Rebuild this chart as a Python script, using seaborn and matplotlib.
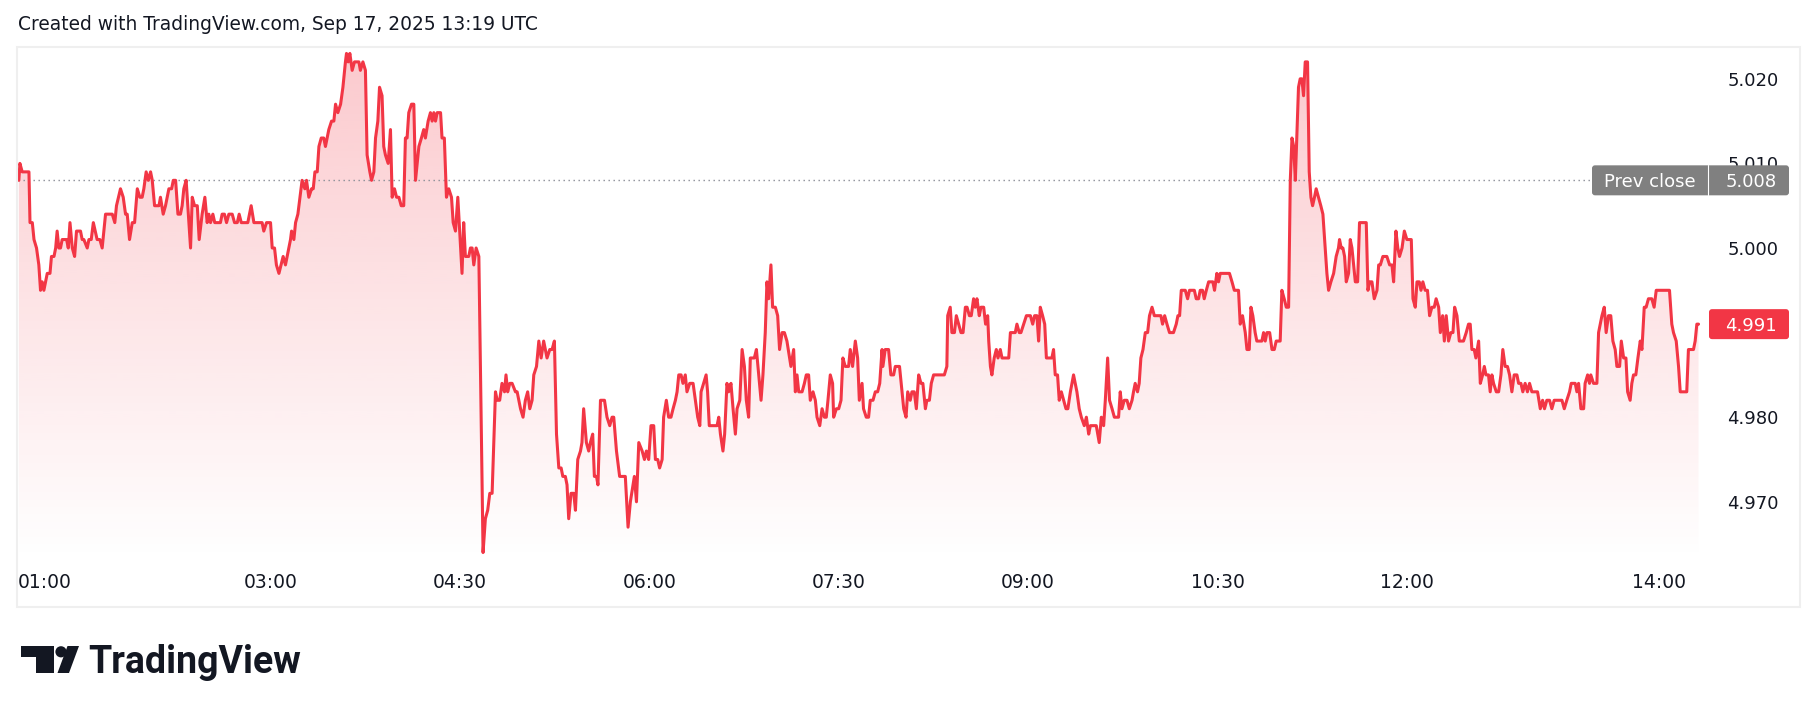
import numpy as np
import pandas as pd
import matplotlib
matplotlib.use("Agg")
import matplotlib.pyplot as plt
import matplotlib.colors as mcolors
from matplotlib.patches import Rectangle, FancyBboxPatch, Polygon, Circle
from matplotlib.transforms import IdentityTransform
import seaborn as sns

# minutes after midnight (chart time) and price in four stretches
t_night = [60.4, 60.9, 62.0, 65.2, 65.7, 66.8, 67.6, 68.8, 69.9, 70.7,
           71.5, 72.3, 73.1, 73.9, 75.2, 75.9, 77.1, 77.9, 78.6, 79.4,
           80.2, 81.0, 82.1, 83.1, 83.9, 84.7, 85.8, 86.9, 87.8, 89.7,
           90.5, 91.3, 92.9, 93.7, 94.8, 95.8, 97.6, 98.9, 100.0, 101.6,
           104.8, 106.0, 106.8, 108.7, 110.0, 111.1, 111.9, 113.0, 114.3, 115.4,
           116.7, 117.9, 119.0, 119.8, 120.9, 121.9, 123.0, 123.8, 124.9, 127.0,
           127.7, 129.0, 130.1, 131.7, 133.0, 133.8, 134.9, 136.0, 137.2, 138.0,
           138.8, 139.9, 142.0, 142.8, 143.9, 145.2, 146.1, 147.5, 148.8, 149.9,
           150.7, 151.5, 152.6, 153.5, 156.2, 157.0, 158.1, 159.1, 160.2, 161.8,
           162.9, 164.2, 165.1, 166.1, 169.2, 170.8, 172.1, 176.0, 176.8, 178.1,
           180.0, 180.8, 181.9, 182.8, 184.0, 186.0, 187.1, 188.7, 189.5, 190.0,
           191.1, 191.9, 193.0, 195.0, 196.3, 197.1, 198.2, 199.5, 200.3, 201.1,
           202.2, 203.0, 204.1, 205.3, 206.1, 207.7, 209.0, 210.1, 210.9, 212.0,
           213.3, 214.4, 214.8, 215.6, 216.1, 216.9, 217.7, 218.8, 219.9, 222.0,
           222.7, 223.9, 225.1, 225.9, 227.2, 228.0, 229.1, 229.9, 231.0, 231.8,
           233.0, 233.8, 234.6, 235.9, 237.0, 237.8, 238.9, 239.9, 241.0, 242.1,
           243.3, 244.1, 244.9, 245.7, 247.0, 248.1, 248.9, 250.5, 251.7, 252.8,
           253.6, 254.9, 256.0, 256.8, 257.6, 258.4, 259.2, 260.8, 261.5, 262.6,
           263.6, 264.7, 266.0, 266.8, 267.9, 269.0, 270.3, 271.0, 271.8, 272.6,
           274.2, 275.0, 275.8, 276.6, 277.7, 279.0, 281.0]
p_night = [5.008, 5.010, 5.009, 5.009, 5.003, 5.003, 5.001, 5.000, 4.998, 4.995,
           4.996, 4.995, 4.996, 4.997, 4.997, 4.999, 4.999, 5.000, 5.002, 5.000,
           5.000, 5.001, 5.001, 5.001, 5.000, 5.003, 5.000, 4.999, 5.002, 5.002,
           5.001, 5.001, 5.000, 5.001, 5.001, 5.003, 5.001, 5.001, 5.000, 5.004,
           5.004, 5.003, 5.005, 5.007, 5.006, 5.004, 5.004, 5.001, 5.003, 5.003,
           5.007, 5.006, 5.006, 5.007, 5.009, 5.008, 5.009, 5.008, 5.005, 5.005,
           5.006, 5.004, 5.005, 5.007, 5.007, 5.008, 5.008, 5.004, 5.004, 5.005,
           5.007, 5.008, 5.000, 5.006, 5.005, 5.005, 5.001, 5.004, 5.006, 5.003,
           5.004, 5.003, 5.004, 5.003, 5.003, 5.004, 5.004, 5.003, 5.004, 5.004,
           5.003, 5.003, 5.004, 5.003, 5.003, 5.005, 5.003, 5.003, 5.002, 5.003,
           5.003, 5.000, 5.000, 4.998, 4.997, 4.999, 4.998, 5.000, 5.001, 5.002,
           5.001, 5.003, 5.004, 5.008, 5.007, 5.008, 5.006, 5.007, 5.007, 5.009,
           5.009, 5.012, 5.013, 5.013, 5.012, 5.014, 5.015, 5.015, 5.017, 5.016,
           5.017, 5.019, 5.020, 5.022, 5.023, 5.022, 5.023, 5.021, 5.022, 5.022,
           5.021, 5.022, 5.021, 5.011, 5.009, 5.008, 5.009, 5.013, 5.015, 5.019,
           5.018, 5.012, 5.011, 5.010, 5.014, 5.006, 5.007, 5.006, 5.006, 5.005,
           5.005, 5.013, 5.013, 5.016, 5.017, 5.017, 5.008, 5.012, 5.013, 5.014,
           5.013, 5.015, 5.016, 5.015, 5.016, 5.015, 5.016, 5.016, 5.013, 5.013,
           5.006, 5.007, 5.006, 5.003, 5.002, 5.006, 5.000, 4.997, 5.003, 4.999,
           4.999, 5.000, 5.000, 4.998, 5.000, 4.999, 4.964]

t_morning = [282.1, 283.2, 284.2, 285.3, 286.9, 287.7, 288.9, 290.0, 291.2, 291.9,
             292.7, 293.7, 294.8, 296.4, 297.2, 298.8, 300.0, 301.1, 302.2, 303.2,
             304.3, 305.1, 306.4, 307.5, 308.6, 309.8, 311.4, 312.7, 313.8, 314.9,
             315.9, 317.0, 318.1, 318.9, 320.1, 320.9, 321.7, 322.8, 324.1, 324.9,
             326.0, 327.3, 328.0, 328.8, 330.1, 331.2, 332.0, 333.1, 333.9, 334.9,
             335.6, 336.8, 338.7, 339.9, 341.2, 342.3, 343.1, 344.4, 345.9, 348.6,
             349.9, 351.0, 352.3, 352.9, 353.9, 355.0, 356.6, 357.7, 358.6, 359.7,
             360.8, 362.1, 362.9, 364.0, 364.9, 366.1, 366.8, 368.1, 369.2, 370.3,
             371.3, 372.4, 373.2, 374.0, 375.1, 376.0, 377.1, 377.9, 379.2, 380.8,
             381.9, 383.0, 384.0, 384.6, 385.8, 387.0, 387.7, 388.5, 392.2, 393.0,
             393.8, 395.0, 395.8, 396.9, 397.7, 398.8, 399.8, 400.9, 401.7, 403.0,
             404.1, 405.2, 406.1, 407.2, 408.0, 409.9, 410.9, 412.0, 413.1, 414.0,
             415.1, 415.9, 416.7, 417.8, 418.6, 419.9, 421.0, 421.9, 423.1, 424.2,
             425.4, 426.7, 427.3, 428.6, 429.4, 430.2, 431.0, 432.6, 433.7, 434.6,
             435.7, 436.5, 437.8, 438.9, 439.7, 441.0, 442.1, 443.2, 444.1, 444.9,
             446.0, 447.1, 447.6, 448.9, 450.0, 451.1, 452.0, 453.1, 454.7, 455.5,
             456.6, 457.9, 459.0, 459.8, 461.1, 461.8, 463.1, 464.2, 465.0, 466.3,
             467.4, 468.5, 469.5, 470.6, 471.0, 472.1, 473.7, 474.8, 476.1, 476.9,
             478.9, 480.1, 480.9, 482.0, 482.8, 484.0, 484.8, 485.9, 486.9, 488.0,
             489.1, 490.0, 491.2, 491.9, 493.1, 494.0, 495.1, 500.2, 501.4, 501.8,
             503.0]
p_morning = [4.968, 4.969, 4.971, 4.971, 4.983, 4.982, 4.982, 4.984, 4.983, 4.985,
             4.983, 4.984, 4.984, 4.983, 4.983, 4.981, 4.980, 4.982, 4.983, 4.981,
             4.982, 4.985, 4.986, 4.989, 4.987, 4.989, 4.987, 4.988, 4.988, 4.989,
             4.978, 4.974, 4.974, 4.973, 4.973, 4.972, 4.968, 4.971, 4.971, 4.969,
             4.975, 4.976, 4.977, 4.981, 4.977, 4.976, 4.977, 4.978, 4.973, 4.973,
             4.972, 4.982, 4.982, 4.980, 4.979, 4.980, 4.980, 4.976, 4.973, 4.973,
             4.967, 4.970, 4.972, 4.973, 4.970, 4.977, 4.976, 4.975, 4.976, 4.975,
             4.979, 4.979, 4.975, 4.975, 4.974, 4.975, 4.980, 4.982, 4.980, 4.980,
             4.981, 4.982, 4.983, 4.985, 4.985, 4.984, 4.985, 4.983, 4.984, 4.984,
             4.982, 4.980, 4.979, 4.983, 4.984, 4.985, 4.983, 4.979, 4.979, 4.980,
             4.978, 4.976, 4.978, 4.984, 4.983, 4.984, 4.981, 4.978, 4.981, 4.982,
             4.988, 4.986, 4.982, 4.980, 4.987, 4.987, 4.988, 4.985, 4.982, 4.985,
             4.990, 4.996, 4.994, 4.998, 4.993, 4.993, 4.992, 4.988, 4.990, 4.990,
             4.989, 4.987, 4.986, 4.988, 4.983, 4.985, 4.983, 4.983, 4.984, 4.985,
             4.985, 4.982, 4.983, 4.982, 4.980, 4.979, 4.981, 4.980, 4.980, 4.982,
             4.985, 4.984, 4.980, 4.981, 4.981, 4.982, 4.987, 4.986, 4.986, 4.988,
             4.986, 4.989, 4.987, 4.982, 4.984, 4.981, 4.980, 4.980, 4.982, 4.982,
             4.983, 4.983, 4.984, 4.988, 4.986, 4.988, 4.988, 4.985, 4.985, 4.986,
             4.986, 4.983, 4.981, 4.980, 4.983, 4.982, 4.983, 4.983, 4.981, 4.985,
             4.984, 4.984, 4.981, 4.982, 4.982, 4.984, 4.985, 4.985, 4.986, 4.992,
             4.993]

t_midday = [503.8, 505.0, 505.9, 507.0, 508.1, 509.1, 510.2, 511.0, 512.1, 513.0,
            514.1, 514.9, 515.7, 516.8, 517.6, 518.9, 519.8, 520.8, 521.3, 522.1,
            522.8, 523.9, 524.9, 525.7, 526.8, 527.6, 530.8, 531.6, 533.9, 534.7,
            535.8, 536.6, 537.9, 539.2, 541.1, 542.2, 543.1, 544.2, 545.0, 545.8,
            546.9, 547.9, 548.7, 551.3, 552.1, 552.9, 554.0, 554.8, 555.8, 556.9,
            558.0, 558.9, 560.1, 561.6, 563.2, 564.3, 565.3, 566.7, 567.7, 568.8,
            569.6, 571.1, 572.4, 573.8, 574.8, 575.9, 576.7, 577.8, 578.7, 579.9,
            581.0, 583.0, 583.8, 584.6, 585.7, 587.0, 588.1, 589.4, 590.1, 590.9,
            592.0, 592.8, 593.6, 594.6, 595.7, 596.8, 597.7, 598.9, 600.0, 603.1,
            603.9, 604.9, 606.0, 607.2, 609.1, 610.4, 611.2, 612.0, 612.8, 614.7,
            615.8, 616.7, 619.0, 619.9, 621.0, 621.8, 622.9, 623.7, 624.7, 625.8,
            627.8, 628.6, 629.7, 630.5, 631.3, 635.7, 636.9, 638.0, 640.0, 640.8,
            641.9, 643.2, 644.0, 645.1, 645.9, 646.8, 647.9, 648.7, 651.1, 651.9,
            652.7, 653.5, 654.8, 655.9, 657.0, 657.9, 659.8, 660.6, 661.7, 662.7,
            663.8, 664.6, 665.4, 666.2, 667.0, 667.7, 668.5, 669.3, 670.1, 670.9,
            671.7, 672.8, 673.6, 674.4, 675.2, 676.1, 676.9, 678.0, 679.1, 680.1,
            681.2, 682.0, 682.8, 683.9, 685.2, 686.4, 687.5, 688.0, 688.8, 689.6,
            690.4, 691.2, 692.3, 693.1]
p_midday = [4.990, 4.990, 4.992, 4.991, 4.990, 4.990, 4.993, 4.993, 4.992, 4.992,
            4.994, 4.993, 4.994, 4.992, 4.993, 4.993, 4.991, 4.992, 4.989, 4.986,
            4.985, 4.987, 4.988, 4.987, 4.988, 4.987, 4.987, 4.990, 4.990, 4.991,
            4.990, 4.990, 4.991, 4.992, 4.992, 4.991, 4.992, 4.992, 4.989, 4.993,
            4.992, 4.991, 4.987, 4.987, 4.988, 4.985, 4.985, 4.982, 4.983, 4.982,
            4.981, 4.981, 4.983, 4.985, 4.983, 4.981, 4.980, 4.979, 4.980, 4.978,
            4.979, 4.979, 4.979, 4.977, 4.980, 4.979, 4.982, 4.987, 4.982, 4.981,
            4.980, 4.980, 4.983, 4.981, 4.982, 4.982, 4.981, 4.982, 4.983, 4.984,
            4.983, 4.984, 4.987, 4.988, 4.990, 4.990, 4.992, 4.993, 4.992, 4.992,
            4.991, 4.992, 4.991, 4.990, 4.990, 4.991, 4.992, 4.992, 4.995, 4.995,
            4.994, 4.995, 4.995, 4.994, 4.994, 4.995, 4.995, 4.994, 4.995, 4.996,
            4.996, 4.995, 4.997, 4.996, 4.997, 4.997, 4.996, 4.995, 4.995, 4.991,
            4.992, 4.990, 4.988, 4.988, 4.993, 4.992, 4.990, 4.989, 4.989, 4.990,
            4.989, 4.990, 4.990, 4.988, 4.988, 4.989, 4.989, 4.995, 4.994, 4.993,
            4.993, 5.008, 5.013, 5.012, 5.008, 5.013, 5.019, 5.020, 5.020, 5.018,
            5.022, 5.022, 5.009, 5.006, 5.005, 5.006, 5.007, 5.006, 5.005, 5.004,
            5.000, 4.997, 4.995, 4.996, 4.997, 4.999, 5.000, 5.001, 5.000, 5.000,
            4.999, 4.996, 4.997, 5.001]

t_afternoon = [693.9, 694.7, 695.5, 696.6, 697.5, 700.7, 701.5, 702.3, 703.4, 704.5,
               705.8, 706.6, 707.4, 708.6, 710.5, 711.8, 712.9, 713.7, 714.8, 715.7,
               716.5, 717.7, 718.8, 720.0, 722.1, 722.9, 724.0, 724.8, 725.9, 726.7,
               727.6, 728.7, 729.8, 730.8, 731.9, 733.0, 733.9, 735.1, 735.9, 737.0,
               737.8, 738.7, 739.8, 740.9, 741.9, 742.7, 743.8, 744.9, 746.9, 748.2,
               749.3, 750.1, 750.9, 752.0, 752.8, 754.1, 754.9, 756.0, 756.8, 757.6,
               758.8, 759.6, 760.4, 761.2, 762.5, 763.6, 764.7, 765.6, 766.7, 767.8,
               768.8, 769.9, 771.0, 772.3, 773.1, 774.2, 775.1, 776.2, 777.3, 778.3,
               779.4, 782.1, 783.4, 784.5, 785.4, 786.5, 787.8, 788.9, 790.0, 793.7,
               794.8, 796.0, 797.3, 798.1, 800.0, 800.8, 801.6, 802.7, 804.0, 804.7,
               805.9, 806.8, 807.4, 808.7, 810.3, 811.1, 812.7, 813.8, 814.7, 815.8,
               816.9, 817.9, 819.0, 819.8, 821.1, 821.9, 823.0, 824.1, 824.9, 826.1,
               826.9, 827.7, 828.8, 829.8, 830.9, 831.7, 832.8, 833.7, 834.8, 836.4,
               837.5, 838.5, 844.8, 845.9, 846.7, 848.0, 849.1, 849.9, 853.0, 853.8,
               856.2, 857.0, 857.8, 858.6]
p_afternoon = [5.000, 4.998, 4.996, 4.996, 5.003, 5.003, 4.995, 4.996, 4.996, 4.994,
               4.995, 4.998, 4.998, 4.999, 4.999, 4.998, 4.998, 4.996, 5.002, 5.000,
               4.999, 5.000, 5.002, 5.001, 5.001, 4.994, 4.993, 4.996, 4.996, 4.995,
               4.996, 4.995, 4.995, 4.992, 4.993, 4.993, 4.994, 4.993, 4.990, 4.992,
               4.989, 4.992, 4.989, 4.990, 4.990, 4.993, 4.992, 4.989, 4.989, 4.990,
               4.991, 4.991, 4.988, 4.988, 4.987, 4.989, 4.984, 4.985, 4.986, 4.985,
               4.985, 4.983, 4.985, 4.984, 4.983, 4.983, 4.985, 4.988, 4.986, 4.986,
               4.985, 4.983, 4.985, 4.985, 4.984, 4.984, 4.983, 4.984, 4.983, 4.984,
               4.983, 4.983, 4.981, 4.982, 4.981, 4.982, 4.982, 4.981, 4.982, 4.982,
               4.981, 4.982, 4.983, 4.984, 4.984, 4.983, 4.984, 4.981, 4.981, 4.984,
               4.985, 4.984, 4.985, 4.984, 4.984, 4.990, 4.992, 4.993, 4.990, 4.992,
               4.992, 4.989, 4.988, 4.986, 4.986, 4.989, 4.987, 4.987, 4.983, 4.982,
               4.984, 4.985, 4.985, 4.987, 4.989, 4.988, 4.993, 4.993, 4.994, 4.994,
               4.993, 4.995, 4.995, 4.991, 4.990, 4.989, 4.986, 4.983, 4.983, 4.988,
               4.988, 4.989, 4.991, 4.991]

day = "2025-09-17"
prev_close = 5.008
last_price = 4.991
# 4.990 sits under the last-price badge, so it carries no label
price_ticks = [4.970, 4.980, 5.000, 5.010, 5.020]
time_ticks = ["01:00", "03:00", "04:30", "06:00", "07:30", "09:00", "10:30", "12:00", "14:00"]
header = "Created with TradingView.com, Sep 17, 2025 13:19 UTC"

RED = "#f23645"
INK = "#131722"
W, H = 1818, 713

sns.set_style("white")
plt.rcParams["font.family"] = ["DejaVu Sans"]

minutes = t_night + t_morning + t_midday + t_afternoon
prices = p_night + p_morning + p_midday + p_afternoon
df = pd.DataFrame({
    "time": pd.Timestamp(day) + pd.to_timedelta(minutes, unit="min"),
    "price": prices,
})

fig = plt.figure(figsize=(W / 100, H / 100), dpi=100)
fig.patch.set_facecolor("white")
ax = fig.add_axes([18 / W, 1 - 560 / H, 1690 / W, 513 / H])
ax.set_facecolor("none")

y_lo, y_hi = 4.96312, 5.02376
x_lo = pd.Timestamp(f"{day} 01:00")
x_hi = pd.Timestamp(day) + pd.Timedelta(minutes=863.1)

# gradient area under the line
fill = ax.fill_between(df["time"], df["price"], y_lo, facecolor="none", edgecolor="none")
ax.set_xlim(x_lo, x_hi)
ax.set_ylim(y_lo, y_hi)
x0, x1 = ax.get_xlim()
grad = np.zeros((256, 1, 4))
grad[..., :3] = mcolors.to_rgb(RED)
grad[:, 0, 3] = np.linspace(0.27, 0.0, 256)
img = ax.imshow(grad, extent=[x0, x1, y_lo, y_hi], aspect="auto", origin="upper",
                zorder=1, interpolation="bilinear")
img.set_clip_path(fill.get_paths()[0], transform=ax.transData)

sns.lineplot(data=df, x="time", y="price", ax=ax, color=RED, linewidth=2.2, zorder=3)
ax.set_xlim(x_lo, x_hi)
ax.set_ylim(y_lo, y_hi)

# previous close dotted line, stopping at the badge
ax.axhline(prev_close, xmin=0, xmax=(1592 - 18) / 1690, color="#8a8d96",
           lw=1.0, ls=(0, (1, 2.6)), zorder=2)

for s in ax.spines.values():
    s.set_visible(False)
ax.set_xlabel("")
ax.set_ylabel("")
ax.grid(False)

ax.yaxis.tick_right()
ax.set_yticks(price_ticks)
ax.set_yticklabels([f"{v:.3f}" for v in price_ticks])
ax.tick_params(axis="y", length=0, pad=14.0, labelsize=13, labelcolor=INK)

ax.set_xticks([pd.Timestamp(f"{day} {t}") for t in time_ticks])
ax.set_xticklabels(time_ticks)
ax.tick_params(axis="x", length=0, pad=9, labelsize=13.5, labelcolor=INK)
ax.get_xticklabels()[0].set_horizontalalignment("left")

# outer frame
fig.add_artist(Rectangle((17 / W, 1 - 607 / H), 1783 / W, 560 / H, transform=fig.transFigure,
                         fill=False, ec="#efefef", lw=1.5))

fig.text(18 / W, 1 - 29.5 / H, header, ha="left", va="baseline", fontsize=13.4, color=INK)

# price-scale badges, placed in pixels at the data height
ident = IdentityTransform()
x_ref = ax.get_xlim()[0]


def badge(value, left, right, color):
    yd = ax.transData.transform((x_ref, value))[1]
    fig.add_artist(FancyBboxPatch((left, yd - 15), right - left, 30,
                                  boxstyle="round,pad=0,rounding_size=3",
                                  transform=ident, fc=color, ec="none", zorder=5))
    return yd


yd = badge(prev_close, 1592, 1789, "#808080")
fig.add_artist(plt.Line2D([1708.3, 1708.3], [yd - 15, yd + 15], transform=ident,
                          color="white", lw=0.8, zorder=6))
fig.text(1649.5 / W, yd / H, "Prev close", ha="center", va="center_baseline",
         fontsize=13, color="white", zorder=7)
fig.text(1777 / W, yd / H, f"{prev_close:.3f}", ha="right", va="center_baseline",
         fontsize=13, color="white", zorder=7)

yd = badge(last_price, 1709, 1789, RED)
fig.text(1777 / W, yd / H, f"{last_price:.3f}", ha="right", va="center_baseline",
         fontsize=13, color="white", zorder=7)

# TradingView logo
top, bot = H - 646, H - 673
fig.add_artist(Polygon([(21, top), (53.6, top), (53.6, bot), (36.4, bot), (36.4, top - 11),
                        (21, top - 11)], closed=True, transform=ident, fc=INK, ec="none"))
fig.add_artist(Circle((61, top - 5.8), 5.6, transform=ident, fc=INK, ec="none"))
fig.add_artist(Polygon([(67.5, top), (79, top), (69, bot), (57.5, bot)], closed=True,
                       transform=ident, fc=INK, ec="none"))
fig.text(88 / W, 1 - 673 / H, "TradingView", ha="left", va="baseline",
         fontsize=27, fontweight="bold", family=["Roboto", "DejaVu Sans"], color=INK)

fig.savefig("out.png", dpi=100, facecolor="white")
